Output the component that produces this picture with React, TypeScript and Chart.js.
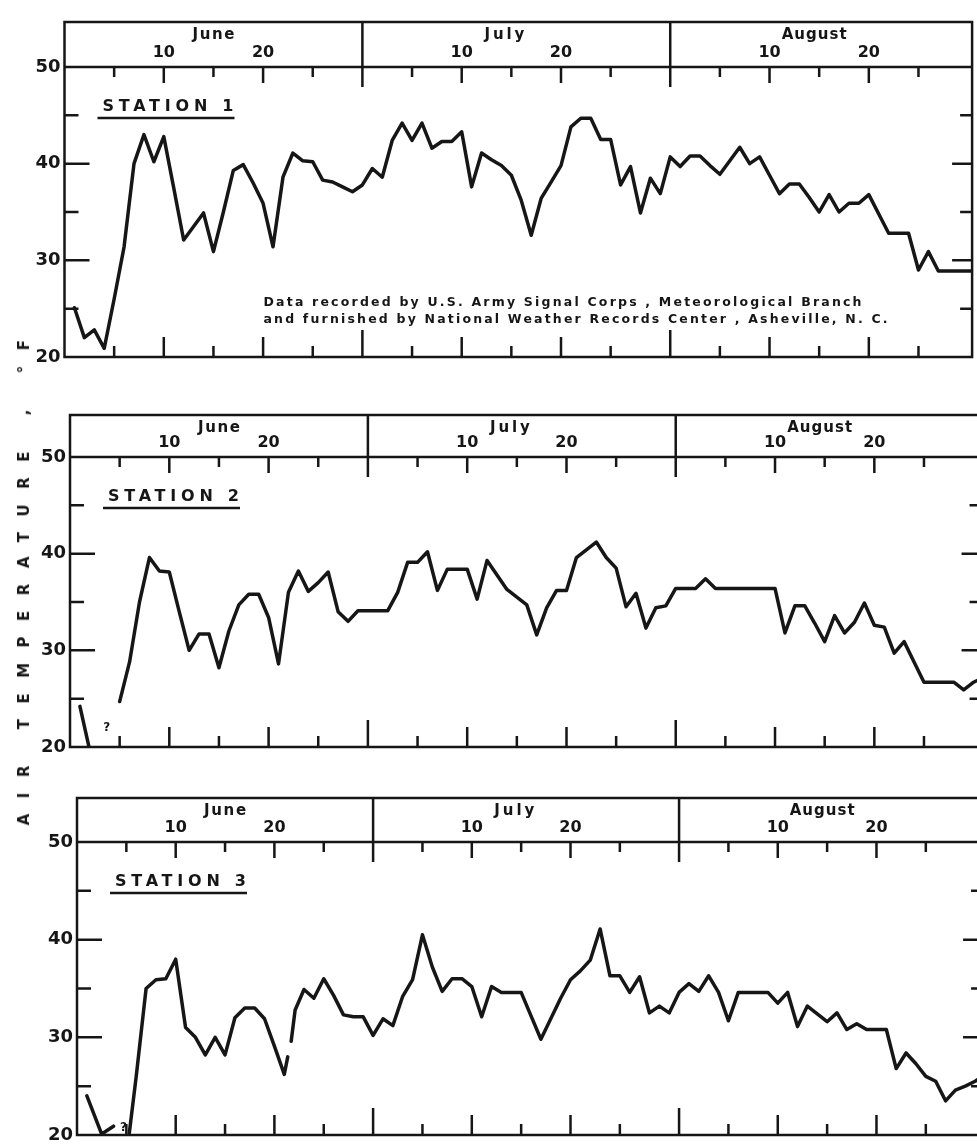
import React, { useEffect, useRef } from 'react';
import { Chart, registerables } from 'chart.js';

Chart.register(...registerables);

// ---------- data ----------
// Day number counted from May 31 (June 1 = 1, July 1 = 31, Aug 1 = 62)
const DAYS = [
  1, 2, 3, 4, 5, 6, 7, 8, 9, 10, 11, 12, 13, 14, 15, 16, 17, 18, 19, 20,
  21, 22, 23, 24, 25, 26, 27, 28, 29, 30, 31, 32, 33, 34, 35, 36, 37, 38, 39, 40,
  41, 42, 43, 44, 45, 46, 47, 48, 49, 50, 51, 52, 53, 54, 55, 56, 57, 58, 59, 60,
  61, 62, 63, 64, 65, 66, 67, 68, 69, 70, 71, 72, 73, 74, 75, 76, 77, 78, 79, 80,
  81, 82, 83, 84, 85, 86, 87, 88, 89, 90, 91, 92,
];

const STATION1 = [
  25.1, 22.0, 22.8, 20.9, 26.0, 31.4, 40.0, 43.0, 40.2, 42.8,
  37.5, 32.1, 33.5, 34.9, 30.9, 35.0, 39.3, 39.9, 38.0, 35.9,
  31.4, 38.6, 41.1, 40.3, 40.2, 38.3, 38.1, 37.6, 37.1, 37.8,
  39.5, 38.6, 42.4, 44.2, 42.4, 44.2, 41.6, 42.3, 42.3, 43.3,
  37.6, 41.1, 40.4, 39.8, 38.8, 36.2, 32.6, 36.4, 38.1, 39.8,
  43.8, 44.7, 44.7, 42.5, 42.5, 37.8, 39.7, 34.9, 38.5, 36.9,
  40.7, 39.7, 40.8, 40.8, 39.8, 38.9, 40.3, 41.7, 40.0, 40.7,
  38.8, 36.9, 37.9, 37.9, 36.5, 35.0, 36.8, 35.0, 35.9, 35.9,
  36.8, 34.8, 32.8, 32.8, 32.8, 29.0, 30.9, 28.9, 28.9, 28.9,
  28.9, 28.9,
];

const STATION2 = [
  24.2, 19.6, null, null, 24.7, 28.8, 35.0, 39.6, 38.2, 38.1,
  34.0, 30.0, 31.7, 31.7, 28.2, 32.0, 34.7, 35.8, 35.8, 33.4,
  28.6, 36.0, 38.2, 36.1, 37.0, 38.1, 34.0, 33.0, 34.1, 34.1,
  34.1, 34.1, 36.0, 39.1, 39.1, 40.2, 36.2, 38.4, 38.4, 38.4,
  35.3, 39.3, 37.8, 36.3, 35.5, 34.7, 31.6, 34.4, 36.2, 36.2,
  39.6, 40.4, 41.2, 39.6, 38.5, 34.5, 35.9, 32.3, 34.4, 34.6,
  36.4, 36.4, 36.4, 37.4, 36.4, 36.4, 36.4, 36.4, 36.4, 36.4,
  36.4, 31.8, 34.6, 34.6, 32.8, 30.9, 33.6, 31.8, 32.9, 34.9,
  32.6, 32.4, 29.7, 30.9, 28.8, 26.7, 26.7, 26.7, 26.7, 25.9,
  26.7, 27.2,
];

const STATION3_DAYS = [
  1, 2.5, 3.7, 4.4, 5.3, 6, 7, 8, 9, 10, 11, 12, 13, 14, 15, 16, 17, 18, 19, 20,
  21, 21.35, 21.5, 21.7, 22.1, 23, 24, 25, 26, 27, 28, 29, 30, 31, 32, 33, 34, 35,
  36, 37, 38, 39, 40, 41, 42, 43, 44, 45, 46, 47, 48, 49, 50, 51, 52, 53, 54, 55,
  56, 57, 58, 59, 60, 61, 62, 63, 64, 65, 66, 67, 68, 69, 70, 71, 72, 73, 74, 75,
  76, 77, 78, 79, 80, 81, 82, 83, 84, 85, 86, 87, 88, 89, 90, 91, 92,
];

const STATION3 = [
  24.0, 20.1, 20.9, null, 20.2, 26.0, 35.0, 35.9, 36.0, 38.0, 31.0, 30.0, 28.2, 30.0, 28.2, 32.0, 33.0, 33.0, 31.9, 29.1,
  26.2, 28.0, null, 29.6, 32.8, 34.9, 34.0, 36.0, 34.3, 32.3, 32.1, 32.1, 30.2, 31.9, 31.2, 34.2, 35.9, 40.5,
  37.2, 34.7, 36.0, 36.0, 35.2, 32.1, 35.2, 34.6, 34.6, 34.6, 32.2, 29.8, 31.9, 34.0, 35.9, 36.8, 37.9, 41.1, 36.3, 36.3,
  34.6, 36.2, 32.5, 33.2, 32.5, 34.6, 35.5, 34.7, 36.3, 34.6, 31.7, 34.6, 34.6, 34.6, 34.6, 33.5, 34.6, 31.1, 33.2, 32.4,
  31.6, 32.5, 30.8, 31.4, 30.8, 30.8, 30.8, 26.8, 28.4, 27.3, 26.0, 25.5, 23.5, 24.6, 25.0, 25.5, 26.2,
];

const MONTH_NAMES = ['June', 'July', 'August'];
const MONTH_START_DAYS = [0, 30, 61];
const MONTH_LABEL_DAYS = [15, 44.3, 75.5];
const MINOR_DAYS_OF_MONTH = [5, 10, 15, 20, 25];
const TOP_TICK_DAYS = [10, 20, 40, 50, 71, 81];
const TOP_TICK_LABELS = ['10', '20', '10', '20', '10', '20'];
const Y_LABEL_VALUES = [20, 30, 40, 50];
const Y_MARK_VALUES = [25, 30, 35, 40, 45];
const STATION_TITLES = ['STATION 1', 'STATION 2', 'STATION 3'];
const NOTE_LINES = [
  'Data recorded by U.S. Army Signal Corps , Meteorological Branch',
  'and furnished by National Weather Records Center , Asheville, N. C.',
];
const AXIS_TITLE = 'AIR TEMPERATURE , °F';
const X_MIN = 0;
const Y_MIN = 20;
const Y_MAX = 50;

// ---------- styling / layout ----------
const INK = '#161616';
const FONT = '"DejaVu Sans", "Liberation Sans", sans-serif';
const MONTH_LABEL_WIDTHS = [42, 40, 65];
const NOTE_WIDTHS = [598, 624];

type PanelCfg = {
  title: string;
  days: number[];
  temps: (number | null)[];
  xMax: number;
  top: number;
  height: number;
  width: number;
  left: number;
  ppd: number;
  padTop: number;
  headerH: number;
  padBottom: number;
  note: boolean;
  query: [number, number] | null;
};

const PANELS: PanelCfg[] = [
  { title: STATION_TITLES[0], days: DAYS, temps: STATION1, xMax: 91.4, top: 0, height: 380, width: 977, left: 64.5, ppd: 9.93, padTop: 22, headerH: 45, padBottom: 23, note: true, query: null },
  { title: STATION_TITLES[1], days: DAYS, temps: STATION2, xMax: 91.8, top: 380, height: 385, width: 1000, left: 70, ppd: 9.93, padTop: 35, headerH: 42, padBottom: 18, note: false, query: [3.7, 22.0] },
  { title: STATION_TITLES[2], days: STATION3_DAYS, temps: STATION3, xMax: 91.8, top: 765, height: 379, width: 1000, left: 77, ppd: 9.87, padTop: 33, headerH: 44, padBottom: 9, note: false, query: [4.7, 20.7] },
];

function spacedText(ctx: CanvasRenderingContext2D, text: string, x: number, y: number, width: number, center = false) {
  const c: any = ctx;
  c.letterSpacing = '0px';
  const natural = ctx.measureText(text).width;
  const ls = text.length > 1 ? (width - natural) / (text.length - 1) : 0;
  c.letterSpacing = ls + 'px';
  ctx.textAlign = 'left';
  ctx.fillText(text, center ? x - width / 2 : x, y);
  c.letterSpacing = '0px';
}

function paperPlugin(cfg: PanelCfg) {
  return {
    id: 'paperFrame',
    afterDraw(chart: any) {
      const ctx: CanvasRenderingContext2D = chart.ctx;
      const { left, right, top, bottom } = chart.chartArea;
      const xs = chart.scales.x;
      const ys = chart.scales.y;
      const X = (d: number) => xs.getPixelForValue(d);
      const Y = (v: number) => ys.getPixelForValue(v);
      const hTop = top - cfg.headerH;

      ctx.save();
      ctx.strokeStyle = INK;
      ctx.fillStyle = INK;
      ctx.lineWidth = 2.5;
      ctx.lineCap = 'square';
      ctx.beginPath();
      // frame
      ctx.moveTo(left, hTop); ctx.lineTo(right, hTop);
      ctx.moveTo(left, top); ctx.lineTo(right, top);
      ctx.moveTo(left, bottom); ctx.lineTo(right, bottom);
      ctx.moveTo(left, hTop); ctx.lineTo(left, bottom);
      ctx.moveTo(right, hTop); ctx.lineTo(right, bottom);
      ctx.stroke();

      ctx.lineCap = 'butt';
      ctx.beginPath();
      // month separators
      MONTH_START_DAYS.slice(1).forEach((d) => {
        const x = X(d);
        ctx.moveTo(x, hTop); ctx.lineTo(x, top + 20);
        ctx.moveTo(x, bottom); ctx.lineTo(x, bottom - 27);
      });
      // day ticks
      MONTH_START_DAYS.forEach((m) => {
        MINOR_DAYS_OF_MONTH.forEach((d) => {
          const x = X(m + d);
          const major = d % 10 === 0;
          ctx.moveTo(x, top); ctx.lineTo(x, top + (major ? 16 : 10));
          ctx.moveTo(x, bottom); ctx.lineTo(x, bottom - (major ? 20 : 11));
        });
      });
      // temperature ticks (inward)
      Y_MARK_VALUES.forEach((v) => {
        const y = Y(v);
        const major = v % 10 === 0;
        ctx.moveTo(left, y); ctx.lineTo(left + (major ? 25 : 14), y);
        ctx.moveTo(right, y); ctx.lineTo(right - (major ? 20 : 12), y);
      });
      ctx.stroke();

      // month names
      ctx.textBaseline = 'middle';
      ctx.font = `bold 15px ${FONT}`;
      MONTH_NAMES.forEach((n, i) => {
        spacedText(ctx, n, X(MONTH_LABEL_DAYS[i]), hTop + 13, MONTH_LABEL_WIDTHS[i], true);
      });

      // station label
      ctx.font = `bold 16px ${FONT}`;
      spacedText(ctx, cfg.title, left + 38, top + 40, 131);
      ctx.beginPath();
      ctx.lineWidth = 2.5;
      ctx.moveTo(left + 33, top + 51);
      ctx.lineTo(left + 170, top + 51);
      ctx.stroke();

      // note
      if (cfg.note) {
        ctx.font = `bold 12.5px ${FONT}`;
        NOTE_LINES.forEach((t, i) => {
          spacedText(ctx, t, left + 199, bottom - 54 + i * 17, NOTE_WIDTHS[i]);
        });
      }

      // query mark
      if (cfg.query) {
        ctx.font = `bold 12px ${FONT}`;
        ctx.textAlign = 'center';
        ctx.fillText('?', X(cfg.query[0]), Y(cfg.query[1]));
      }
      ctx.restore();
    },
  };
}

function buildChart(canvas: HTMLCanvasElement, cfg: PanelCfg) {
  const padRight = cfg.width - (cfg.left + (cfg.xMax - X_MIN) * cfg.ppd);
  const data = cfg.days.map((d, i) => ({ x: d, y: cfg.temps[i] }));
  return new Chart(canvas, {
    type: 'line',
    data: {
      datasets: [
        {
          label: cfg.title,
          data: data as any,
          borderColor: INK,
          backgroundColor: INK,
          borderWidth: 3.5,
          pointRadius: 0,
          tension: 0,
          spanGaps: false,
          borderJoinStyle: 'round',
          borderCapStyle: 'round',
          xAxisID: 'x',
          yAxisID: 'y',
        },
      ],
    },
    options: {
      responsive: false,
      maintainAspectRatio: false,
      animation: false,
      events: [],
      layout: { padding: { left: 0, top: cfg.padTop, right: padRight, bottom: cfg.padBottom } },
      plugins: { legend: { display: false }, tooltip: { enabled: false }, title: { display: false } },
      scales: {
        x: { type: 'linear', min: X_MIN, max: cfg.xMax, display: false },
        xTop: {
          type: 'linear',
          position: 'top',
          min: X_MIN,
          max: cfg.xMax,
          grid: { display: false, drawTicks: false },
          border: { display: false },
          ticks: {
            color: INK,
            font: { family: FONT, size: 16, weight: 'bold' },
            padding: 5,
            maxRotation: 0,
            autoSkip: false,
            callback: (value: any) => {
              const i = TOP_TICK_DAYS.indexOf(Number(value));
              return i >= 0 ? TOP_TICK_LABELS[i] : '';
            },
          },
          afterBuildTicks: (s: any) => {
            s.ticks = TOP_TICK_DAYS.map((v) => ({ value: v }));
          },
          afterFit: (s: any) => {
            s.height = cfg.headerH;
            s.paddingLeft = 0;
            s.paddingRight = 0;
          },
        },
        y: {
          type: 'linear',
          position: 'left',
          min: Y_MIN,
          max: Y_MAX,
          grid: { display: false, drawTicks: false },
          border: { display: false },
          ticks: {
            color: INK,
            font: { family: FONT, size: 18, weight: 'bold' },
            padding: 4,
          },
          afterBuildTicks: (s: any) => {
            s.ticks = Y_LABEL_VALUES.map((v) => ({ value: v }));
          },
          afterFit: (s: any) => {
            s.width = cfg.left;
            s.paddingTop = 0;
            s.paddingBottom = 0;
          },
        },
      } as any,
    },
    plugins: [paperPlugin(cfg)],
  } as any);
}

export default function App() {
  const refs = [useRef<HTMLCanvasElement>(null), useRef<HTMLCanvasElement>(null), useRef<HTMLCanvasElement>(null)];

  useEffect(() => {
    const charts = PANELS.map((cfg, i) => buildChart(refs[i].current as HTMLCanvasElement, cfg));
    return () => charts.forEach((c) => c.destroy());
  }, []);

  return (
    <div
      style={{
        position: 'absolute',
        left: 0,
        top: 0,
        width: 977,
        height: 1144,
        overflow: 'hidden',
        background: '#ffffff',
      }}
    >
      {PANELS.map((cfg, i) => (
        <canvas
          key={i}
          ref={refs[i]}
          width={cfg.width}
          height={cfg.height}
          style={{ position: 'absolute', left: 0, top: cfg.top, width: cfg.width, height: cfg.height, display: 'block' }}
        />
      ))}
      <div
        style={{
          position: 'absolute',
          left: 24,
          top: 575,
          transform: 'translate(-50%, -50%) rotate(-90deg)',
          font: `bold 15px ${FONT}`,
          letterSpacing: '15.5px',
          whiteSpace: 'nowrap',
          color: INK,
        }}
      >
        {AXIS_TITLE}
      </div>
    </div>
  );
}
